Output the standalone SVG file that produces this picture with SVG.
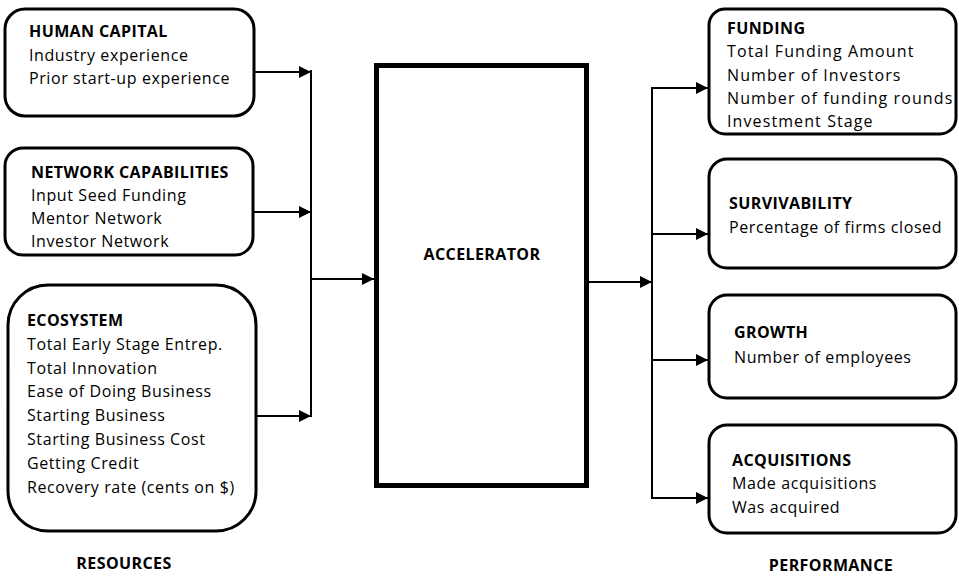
<svg xmlns="http://www.w3.org/2000/svg" width="959" height="576" viewBox="0 0 959 576">
<style>
.box{fill:#fff;stroke:#000;stroke-width:3}
.acc{fill:#fff;stroke:#000;stroke-width:5}
text{font-family:"Open Sans","Liberation Sans",sans-serif;font-size:16px;letter-spacing:0.6px;fill:#000}
.b{font-weight:bold;letter-spacing:0.4px}
.f{letter-spacing:1.1px}
.c{stroke:#000;stroke-width:2;fill:none}
</style>
<defs>
<marker id="ah" viewBox="0 0 10 10" refX="10" refY="5" markerWidth="6" markerHeight="6" orient="auto" markerUnits="strokeWidth">
<path d="M0,0 L10,5 L0,10 z" fill="#000"/>
</marker>
</defs>
<g id="human-capital">
<rect class="box" x="5" y="9" width="249" height="107" rx="20"/>
<text x="29" y="37" class="b">HUMAN CAPITAL</text>
<text x="29" y="61">Industry experience</text>
<text x="29" y="84">Prior start-up experience</text>
</g>
<g id="network-capabilities">
<rect class="box" x="5" y="148" width="248" height="107" rx="18"/>
<text x="31" y="178" class="b">NETWORK CAPABILITIES</text>
<text x="31" y="201">Input Seed Funding</text>
<text x="31" y="224">Mentor Network</text>
<text x="31" y="247">Investor Network</text>
</g>
<g id="ecosystem">
<rect class="box" x="8" y="285" width="248" height="246" rx="40"/>
<text x="27" y="326" class="b">ECOSYSTEM</text>
<text x="27" y="350">Total Early Stage Entrep.</text>
<text x="27" y="374">Total Innovation</text>
<text x="27" y="397">Ease of Doing Business</text>
<text x="27" y="421">Starting Business</text>
<text x="27" y="445">Starting Business Cost</text>
<text x="27" y="469">Getting Credit</text>
<text x="27" y="493">Recovery rate (cents on $)</text>
</g>
<g id="accelerator">
<rect class="acc" x="376.5" y="65.5" width="210" height="420"/>
<text x="482" y="260" class="b" text-anchor="middle">ACCELERATOR</text>
</g>
<g id="funding">
<rect class="box" x="709" y="9" width="247" height="125" rx="16"/>
<text x="727" y="34" class="b">FUNDING</text>
<text x="727" y="57" class="f">Total Funding Amount</text>
<text x="727" y="81" class="f">Number of Investors</text>
<text x="727" y="104" class="f">Number of funding rounds</text>
<text x="727" y="127" class="f">Investment Stage</text>
</g>
<g id="survivability">
<rect class="box" x="709" y="159" width="247" height="109" rx="18"/>
<text x="729" y="209" class="b">SURVIVABILITY</text>
<text x="729" y="233">Percentage of firms closed</text>
</g>
<g id="growth">
<rect class="box" x="709" y="295" width="247" height="103" rx="18"/>
<text x="734" y="338" class="b">GROWTH</text>
<text x="734" y="363">Number of employees</text>
</g>
<g id="acquisitions">
<rect class="box" x="709" y="425" width="247" height="108" rx="18"/>
<text x="732" y="466" class="b">ACQUISITIONS</text>
<text x="732" y="489">Made acquisitions</text>
<text x="732" y="513">Was acquired</text>
</g>
<g id="labels">
<text x="124" y="569" class="b" text-anchor="middle">RESOURCES</text>
<text x="831" y="571" class="b" text-anchor="middle">PERFORMANCE</text>
</g>
<g id="connectors">
<line class="c" x1="255" y1="72" x2="311" y2="72" marker-end="url(#ah)"/>
<line class="c" x1="254" y1="212" x2="311" y2="212" marker-end="url(#ah)"/>
<line class="c" x1="257" y1="416" x2="311" y2="416" marker-end="url(#ah)"/>
<line class="c" x1="311" y1="70" x2="311" y2="417"/>
<line class="c" x1="310" y1="279" x2="374" y2="279" marker-end="url(#ah)"/>
<line class="c" x1="589" y1="282" x2="652" y2="282" marker-end="url(#ah)"/>
<line class="c" x1="652" y1="87" x2="652" y2="499"/>
<line class="c" x1="651" y1="88" x2="708" y2="88" marker-end="url(#ah)"/>
<line class="c" x1="651" y1="234" x2="708" y2="234" marker-end="url(#ah)"/>
<line class="c" x1="651" y1="360" x2="708" y2="360" marker-end="url(#ah)"/>
<line class="c" x1="651" y1="498" x2="708" y2="498" marker-end="url(#ah)"/>
</g>
</svg>
